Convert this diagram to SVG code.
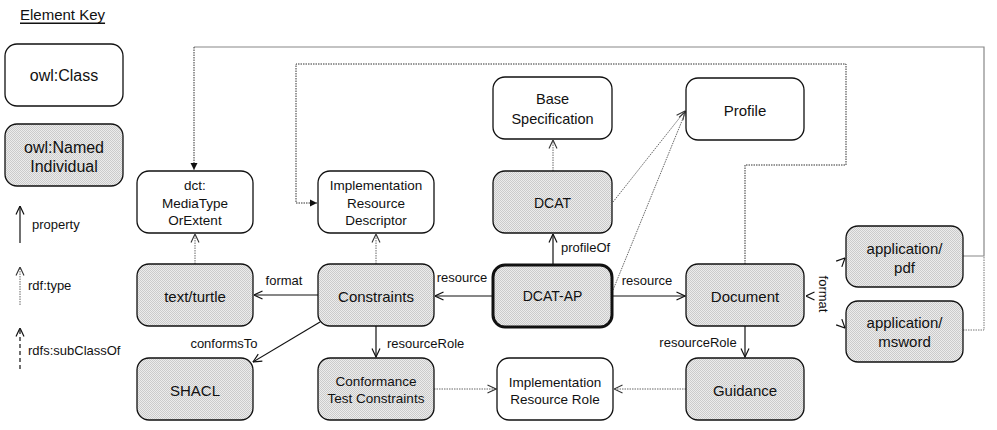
<svg xmlns="http://www.w3.org/2000/svg" width="997" height="430" viewBox="0 0 997 430">
<style>
text{font-family:"Liberation Sans",Arial,sans-serif;fill:#111;dominant-baseline:central}
.m{text-anchor:middle}
.n{font-size:15px}
.s{font-size:13.5px}
.l{font-size:13px}
.box{stroke:#111;stroke-width:1.3;fill:#fff}
.ind{stroke:#111;stroke-width:1.3;fill:url(#hatch)}
.prop{stroke:#111;stroke-width:1.2;fill:none;marker-end:url(#open)}
.type{stroke:#666;stroke-width:1;stroke-dasharray:1.5 1;fill:none;marker-end:url(#openg)}
.sub{stroke:#111;stroke-width:1.2;stroke-dasharray:4 3;fill:none;marker-end:url(#open)}
</style>
<defs>
<pattern id="hatch" width="2" height="2" patternUnits="userSpaceOnUse">
<rect width="2" height="2" fill="#ececec"/>
<rect width="1" height="1" fill="#cbcbcb"/>
<rect x="1" y="1" width="1" height="1" fill="#cbcbcb"/>
</pattern>
<marker id="open" viewBox="0 0 10 10" refX="9.5" refY="5" markerWidth="10" markerHeight="10" markerUnits="userSpaceOnUse" orient="auto">
<path d="M1,1 L9.5,5 L1,9" fill="none" stroke="#111" stroke-width="1.2"/>
</marker>
<marker id="openg" viewBox="0 0 10 10" refX="9.5" refY="5" markerWidth="10" markerHeight="10" markerUnits="userSpaceOnUse" orient="auto">
<path d="M1,1 L9.5,5 L1,9" fill="none" stroke="#333" stroke-width="1.1"/>
</marker>
<marker id="fill" viewBox="0 0 10 10" refX="9" refY="5" markerWidth="8" markerHeight="8" markerUnits="userSpaceOnUse" orient="auto">
<path d="M0,0.5 L9,5 L0,9.5 Z" fill="#111"/>
</marker>
</defs>

<g id="key">
<text x="20" y="14" font-size="15" text-decoration="underline">Element Key</text>
<rect class="box" x="5" y="44" width="118" height="62" rx="12"/>
<text class="m" x="64" y="75" font-size="16">owl:Class</text>
<rect class="ind" x="5" y="124" width="118" height="62" rx="12"/>
<text class="m" x="64" y="147" font-size="16">owl:Named</text>
<text class="m" x="64" y="166" font-size="16">Individual</text>
<path class="prop" d="M20,243 V206"/>
<text class="l" x="32" y="224">property</text>
<path class="type" d="M20,305 V267"/>
<text class="l" x="28" y="285">rdf:type</text>
<path class="sub" d="M20,369 V328"/>
<text class="l" x="28" y="350">rdfs:subClassOf</text>
</g>

<g id="connectors">
<path class="type" d="M195,264 V234"/>
<path class="type" d="M376,264 V234"/>
<path class="prop" d="M318,295 H254"/>
<path class="prop" d="M320,322 L253,362"/>
<path class="prop" d="M376,326 V357"/>
<path class="type" d="M434,389 H496"/>
<path class="type" d="M686,389 H614"/>
<path class="prop" d="M493,296 H435"/>
<path class="prop" d="M612,296 H685"/>
<path class="prop" d="M553,265 V234"/>
<path class="type" d="M553,171 V140"/>
<path class="type" d="M613,202 L685,111"/>
<path class="type" d="M613,290 L686,111"/>
<path class="prop" d="M745,326 V357"/>
<path d="M820,296 L806,296" stroke="none" fill="none" marker-end="url(#open)"/>
<path d="M832,271 L845,258" stroke="none" fill="none" marker-end="url(#open)"/>
<path d="M832,315 L845,328" stroke="none" fill="none" marker-end="url(#open)"/>
<path d="M745,264 V165 H846 V64 H296 V203 H317" fill="none" stroke="#333" stroke-width="1" stroke-dasharray="1.5 1" marker-end="url(#fill)"/>
<path d="M963,256 H984 V47 H194" fill="none" stroke="#888" stroke-width="1.2"/>
<path d="M963,330 H984 V256" fill="none" stroke="#777" stroke-width="1" stroke-dasharray="1.5 1"/>
<path d="M194,47 V170" fill="none" stroke="#333" stroke-width="1" stroke-dasharray="1.5 1" marker-end="url(#fill)"/>
<text class="l m" x="284" y="280">format</text>
<text class="l m" x="224" y="343">conformsTo</text>
<text class="l" x="387" y="343">resourceRole</text>
<text class="l m" x="462" y="277">resource</text>
<text class="l m" x="647" y="280">resource</text>
<text class="l" x="561" y="247">profileOf</text>
<text class="l m" x="698" y="342">resourceRole</text>
<text class="l m" transform="translate(823,294) rotate(90)">format</text>
</g>

<g id="dct"><rect class="box" x="137" y="171" width="116" height="62" rx="12"/>
<text class="s m" x="195" y="185">dct:</text><text class="s m" x="195" y="203">MediaType</text><text class="s m" x="195" y="220">OrExtent</text></g>
<g id="ird"><rect class="box" x="318" y="171" width="116" height="62" rx="12"/>
<text class="s m" x="376" y="185">Implementation</text><text class="s m" x="376" y="203">Resource</text><text class="s m" x="376" y="220">Descriptor</text></g>
<g id="turtle"><rect class="ind" x="137" y="264" width="116" height="62" rx="12"/>
<text class="n m" x="195" y="296">text/turtle</text></g>
<g id="constraints"><rect class="ind" x="318" y="264" width="116" height="62" rx="12"/>
<text class="n m" x="376" y="296">Constraints</text></g>
<g id="shacl"><rect class="ind" x="137" y="358" width="116" height="62" rx="12"/>
<text class="n m" x="195" y="390">SHACL</text></g>
<g id="ctc"><rect class="ind" x="318" y="358" width="116" height="62" rx="12"/>
<text class="s m" x="376" y="381">Conformance</text><text class="s m" x="376" y="398">Test Constraints</text></g>
<g id="base"><rect class="box" x="493" y="77" width="119" height="62" rx="12"/>
<text class="m" font-size="14.5" x="552.5" y="99">Base</text><text class="m" font-size="14.5" x="552.5" y="119">Specification</text></g>
<g id="dcat"><rect class="ind" x="493" y="171" width="119" height="62" rx="12"/>
<text class="m" font-size="14" x="552.5" y="203">DCAT</text></g>
<g id="dcatap"><rect x="493" y="265" width="119" height="62" rx="12" fill="url(#hatch)" stroke="#111" stroke-width="3"/>
<text class="m" font-size="14" x="552.5" y="296">DCAT-AP</text></g>
<g id="irr"><rect class="box" x="497" y="358" width="116" height="62" rx="12"/>
<text class="s m" x="555" y="382">Implementation</text><text class="s m" x="555" y="399">Resource Role</text></g>
<g id="profile"><rect class="box" x="686" y="78" width="118" height="62" rx="12"/>
<text class="n m" x="745" y="110">Profile</text></g>
<g id="document"><rect class="ind" x="686" y="264" width="118" height="62" rx="12"/>
<text class="n m" x="745" y="296">Document</text></g>
<g id="guidance"><rect class="ind" x="686" y="358" width="118" height="62" rx="12"/>
<text class="n m" x="745" y="390">Guidance</text></g>
<g id="pdf"><rect class="ind" x="846" y="226" width="117" height="61" rx="12"/>
<text class="n m" x="904.5" y="248">application/</text><text class="n m" x="904.5" y="267">pdf</text></g>
<g id="msword"><rect class="ind" x="846" y="301" width="117" height="61" rx="12"/>
<text class="n m" x="904.5" y="322">application/</text><text class="n m" x="904.5" y="341">msword</text></g>
</svg>
